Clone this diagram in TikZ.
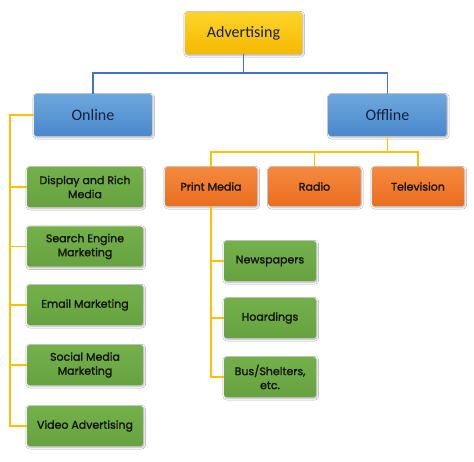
\documentclass[tikz,border=0pt]{standalone}
\usepackage{fontspec}
\setmainfont{Carlito}
\newfontfamily\popfont[FakeBold=1.6]{Poppins}
\usetikzlibrary{shadows.blur}
\definecolor{goldT}{HTML}{FFD42A}
\definecolor{goldB}{HTML}{F5B800}
\definecolor{blueT}{HTML}{6EA7DE}
\definecolor{blueB}{HTML}{4A88CC}
\definecolor{orgT}{HTML}{F5893F}
\definecolor{orgB}{HTML}{EA6D1E}
\definecolor{grnT}{HTML}{74B04A}
\definecolor{grnB}{HTML}{66A23F}
\definecolor{lineblue}{HTML}{4472C4}
\definecolor{lineyel}{HTML}{FFC000}
\definecolor{txtdark}{HTML}{141414}
\definecolor{txtnavy}{HTML}{14213D}
\tikzset{
  box/.style={rounded corners=2.5pt, inner sep=0pt, align=center,
    blur shadow={shadow xshift=0.8pt, shadow yshift=-1.2pt, shadow blur steps=4, shadow opacity=35}},
  topbox/.style={box, top color=goldT, bottom color=goldB, minimum width=117pt, minimum height=42pt,
    font=\fontsize{16}{18}\selectfont, text=txtnavy},
  bluebox/.style={box, top color=blueT, bottom color=blueB, minimum width=118pt, minimum height=42pt,
    font=\fontsize{16}{18}\selectfont, text=txtnavy},
  orgbox/.style={box, top color=orgT, bottom color=orgB, minimum width=92pt, minimum height=39pt,
    font=\popfont\fontsize{11}{14}\selectfont, text=txtdark},
  grnbox/.style={box, top color=grnT, bottom color=grnB, minimum width=116pt, minimum height=40pt,
    font=\popfont\fontsize{11}{14}\selectfont, text=txtdark},
  grnbox2/.style={grnbox, minimum width=92pt},
  bline/.style={draw=lineblue, line width=1.4pt},
  yline/.style={draw=lineyel, line width=1.4pt},
}
\begin{document}
\begin{tikzpicture}[x=1pt,y=-1pt]
\useasboundingbox (0,0) rectangle (474,462);
\fill[white] (0,0) rectangle (474,462);
% nodes
\node[topbox] (adv) at (243.5,33) {Advertising};
\node[bluebox] (onl) at (93,115) {Online};
\node[bluebox] (off) at (387.5,115) {Offline};
\node[orgbox] (pm) at (211,186.5) {Print Media};
\node[orgbox] (rad) at (314.5,186.5) {Radio};
\node[orgbox] (tv) at (418,186.5) {Television};
\node[grnbox] (d1) at (85,187) {Display and Rich\\Media};
\node[grnbox] (d2) at (85,246.5) {Search Engine\\Marketing};
\node[grnbox] (d3) at (85,305) {Email Marketing};
\node[grnbox] (d4) at (85,365) {Social Media\\Marketing};
\node[grnbox] (d5) at (85,426) {Video Advertising};
\node[grnbox2] (n1) at (270,261) {Newspapers};
\node[grnbox2] (n2) at (270,318) {Hoardings};
\node[grnbox2] (n3) at (270,377) {Bus/Shelters,\\etc.};
% coordinates
\coordinate (bh) at (0,73);
\coordinate (oh) at (0,152);
\coordinate (lx) at (10,0);
% blue connectors
\draw[bline] (adv.south) -- (adv.south |- bh);
\draw[bline] (onl.north) -- (onl.north |- bh) -- (off.north |- bh) -- (off.north);
% offline connectors
\draw[yline] (off.south) -- (off.south |- oh);
\draw[yline] (pm.north) -- (pm.north |- oh) -- (tv.north |- oh) -- (tv.north);
\draw[yline] (rad.north) -- (rad.north |- oh);
% online connectors
\draw[yline] (onl.west) -- (lx |- onl.west) -- (lx |- d5.west) -- (d5.west);
\foreach \n in {d1,d2,d3,d4} \draw[yline] (lx |- \n.west) -- (\n.west);
% print media connectors
\draw[yline] (pm.south) -- (pm.south |- n3.west) -- (n3.west);
\foreach \n in {n1,n2} \draw[yline] (pm.south |- \n.west) -- (\n.west);
\end{tikzpicture}
\end{document}
